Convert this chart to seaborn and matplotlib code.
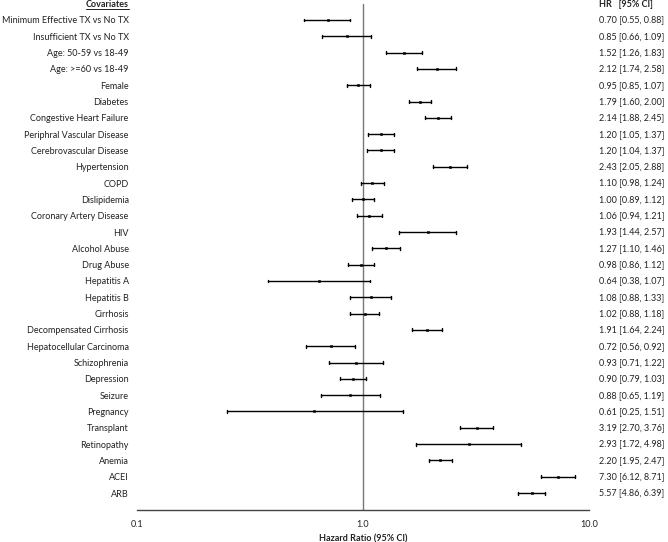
import seaborn as sns
import matplotlib.pyplot as plt
import matplotlib.ticker as mticker
import pandas as pd

covariates = [
    "Minimum Effective TX vs No TX", "Insufficient TX vs No TX",
    "Age: 50-59 vs 18-49", "Age: >=60 vs 18-49", "Female", "Diabetes",
    "Congestive Heart Failure", "Periphral Vascular Disease",
    "Cerebrovascular Disease", "Hypertension", "COPD", "Dislipidemia",
    "Coronary Artery Disease", "HIV", "Alcohol Abuse", "Drug Abuse",
    "Hepatitis A", "Hepatitis B", "Cirrhosis", "Decompensated Cirrhosis",
    "Hepatocellular Carcinoma", "Schizophrenia", "Depression", "Seizure",
    "Pregnancy", "Transplant", "Retinopathy", "Anemia", "ACEI", "ARB",
]
hr = [0.70, 0.85, 1.52, 2.12, 0.95, 1.79, 2.14, 1.20, 1.20, 2.43,
      1.10, 1.00, 1.06, 1.93, 1.27, 0.98, 0.64, 1.08, 1.02, 1.91,
      0.72, 0.93, 0.90, 0.88, 0.61, 3.19, 2.93, 2.20, 7.30, 5.57]
ci_low = [0.55, 0.66, 1.26, 1.74, 0.85, 1.60, 1.88, 1.05, 1.04, 2.05,
          0.98, 0.89, 0.94, 1.44, 1.10, 0.86, 0.38, 0.88, 0.88, 1.64,
          0.56, 0.71, 0.79, 0.65, 0.25, 2.70, 1.72, 1.95, 6.12, 4.86]
ci_high = [0.88, 1.09, 1.83, 2.58, 1.07, 2.00, 2.45, 1.37, 1.37, 2.88,
           1.24, 1.12, 1.21, 2.57, 1.46, 1.12, 1.07, 1.33, 1.18, 2.24,
           0.92, 1.22, 1.03, 1.19, 1.51, 3.76, 4.98, 2.47, 8.71, 6.39]

# long format: low / estimate / high per covariate -> median + full range
rows = []
for c, lo, h, hi in zip(covariates, ci_low, hr, ci_high):
    for v in (lo, h, hi):
        rows.append({"Covariate": c, "HR": v})
df = pd.DataFrame(rows)

sns.set_style("white")
plt.rcParams["font.family"] = ["Lato", "DejaVu Sans"]
text_color = "#222222"
fs = 6.5

fig = plt.figure(figsize=(6.68, 5.42), dpi=100)
ax = fig.add_axes([137 / 668, 1 - 510 / 542, (589 - 137) / 668, (510 - 4) / 542])
ax.set_xscale("log")

sns.pointplot(data=df, x="HR", y="Covariate", order=covariates,
              estimator="median", errorbar=("pi", 100), linestyle="none",
              marker="s", markersize=1.6, markeredgewidth=0.4, color="black",
              err_kws={"linewidth": 1.0}, capsize=0.18, ax=ax)

ax.axvline(1.0, color="#777777", linewidth=1, zorder=0)

ax.set_xlim(0.1, 10)
ax.set_ylim(30.04, -0.98)
ax.xaxis.set_major_locator(mticker.FixedLocator([0.1, 1, 10]))
ax.xaxis.set_major_formatter(mticker.FixedFormatter(["0.1", "1.0", "10.0"]))
ax.xaxis.set_minor_locator(mticker.LogLocator(base=10, subs=range(2, 10)))
ax.xaxis.set_minor_formatter(mticker.NullFormatter())
ax.tick_params(axis="x", which="major", direction="inout", length=6, width=1,
               colors="#444444", labelcolor=text_color, labelsize=fs, pad=4)
ax.tick_params(axis="x", which="minor", direction="inout", length=3.5, width=0.7,
               colors="#666666")
ax.tick_params(axis="y", length=0, pad=6, labelsize=fs, labelcolor=text_color)

for s in ["left", "top", "right"]:
    ax.spines[s].set_visible(False)
ax.spines["bottom"].set_color("#444444")
ax.spines["bottom"].set_linewidth(1)

ax.set_ylabel("")
ax.set_xlabel("Hazard Ratio (95% CI)", fontsize=fs, fontweight="bold",
              color=text_color, labelpad=4)

# header row and right-hand HR column
trans = ax.get_yaxis_transform()
cov_hdr = ax.text(-8 / 452, -0.93, "Covariates", transform=trans, ha="right",
                  va="center", fontsize=fs, fontweight="bold", color=text_color,
                  clip_on=False)
ax.text(1 + 10 / 452, -0.93, "HR   [95% CI]", transform=trans, ha="left",
        va="center", fontsize=fs, fontweight="bold", color=text_color,
        clip_on=False)
for i, (lo, h, hi) in enumerate(zip(ci_low, hr, ci_high)):
    ax.text(1 + 10 / 452, i, f"{h:.2f} [{lo:.2f}, {hi:.2f}]", transform=trans,
            ha="left", va="center", fontsize=fs, color=text_color, clip_on=False)

# underline the Covariates header
fig.canvas.draw()
bb = cov_hdr.get_window_extent()
inv = fig.transFigure.inverted()
(x0, y0), (x1, _) = inv.transform([(bb.x0, bb.y0), (bb.x1, bb.y0)])
fig.add_artist(plt.Line2D([x0, x1], [y0 + 0.001, y0 + 0.001], color=text_color,
                          linewidth=0.7, transform=fig.transFigure))

fig.savefig("out.png", dpi=100)
